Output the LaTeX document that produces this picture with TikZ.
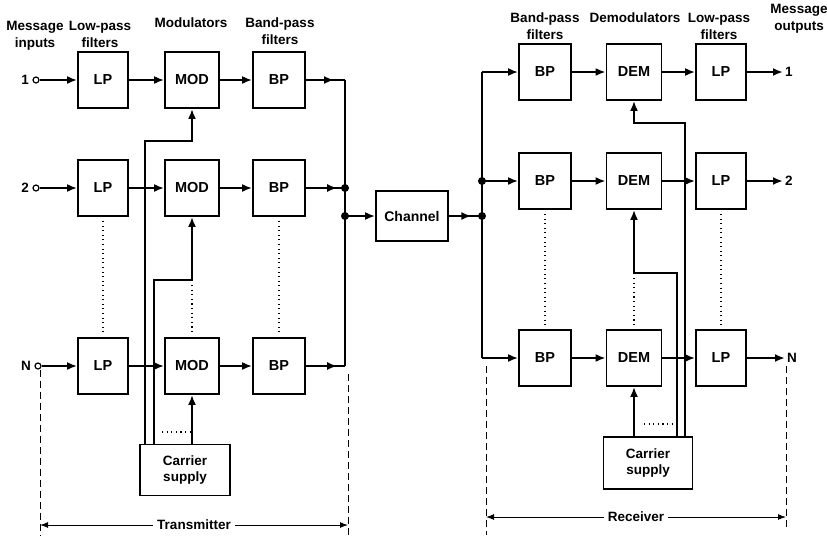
\documentclass[tikz,border=0pt]{standalone}
\usepackage{fontspec}
\setmainfont{Liberation Sans}
\usepackage{tikz}
\usetikzlibrary{arrows.meta,positioning,decorations.markings}

\begin{document}
\begin{tikzpicture}[
    x=1pt, y=-1pt,
    every node/.style={font=\bfseries\fontsize{13.5}{17}\selectfont},
    block/.style={draw, line width=1.8pt, minimum width=52pt, minimum height=56pt, inner sep=0pt, font=\bfseries\fontsize{14.5}{16}\selectfont},
    heading/.style={align=center, anchor=north, inner sep=0pt},
    wire/.style={line width=2.3pt},
    sig/.style={wire, -{Latex[length=10pt,width=8pt]}},
    midsig/.style={wire, postaction={decorate}, decoration={markings, mark=at position #1 with {\arrow{Latex[length=10pt,width=8pt]}}}},
    dotline/.style={line width=1.1pt, dash pattern=on 1.1pt off 3.5pt},
    frame/.style={dash pattern=on 7pt off 4pt, line width=1pt},
    span/.style={line width=1pt, {Latex[length=8pt,width=6pt]}-{Latex[length=8pt,width=6pt]}},
    junc/.style={circle, fill, inner sep=0pt, minimum size=8pt},
    port/.style={circle, draw, line width=1.2pt, inner sep=0pt, minimum size=6pt, fill=white}
]
\useasboundingbox (0,0) rectangle (827,536);

% Headings
\node [heading] at (35,21) {Message\\inputs};
\node [heading] at (100,21) {Low-pass\\filters};
\node [heading] at (191,18) {Modulators};
\node [heading] at (280,18) {Band-pass\\filters};
\node [heading] at (545,13) {Band-pass\\filters};
\node [heading] at (635,13) {Demodulators};
\node [heading] at (719,13) {Low-pass\\filters};
\node [heading] at (799,4) {Message\\outputs};

% Transmitter blocks
\node (in1) [port, label=left:1] at (36,80) {};
\node (in2) [port, label=left:2] at (36,188) {};
\node (inN) [port, label=left:N] at (38,366) {};
\node (lp1) [block, minimum width=50pt] at (103,80) {LP};
\node (lp2) [block, minimum width=50pt] at (103,188) {LP};
\node (lpN) [block, minimum width=50pt] at (103,366) {LP};
\node (mod1) [block, minimum width=54pt] at (192,80) {MOD};
\node (mod2) [block, minimum width=54pt] at (192,188) {MOD};
\node (modN) [block, minimum width=54pt] at (192,366) {MOD};
\node (bp1) [block] at (279,80) {BP};
\node (bp2) [block] at (279,188) {BP};
\node (bpN) [block] at (279,366) {BP};
\node (tcar) [block, minimum width=90pt, minimum height=51pt, align=center, font=\bfseries\fontsize{13.5}{16}\selectfont] at (185,470) {Carrier\\supply};

% Channel
\node (chan) [block, minimum width=72pt, minimum height=50pt, font=\bfseries\fontsize{14}{16}\selectfont] at (412,216) {Channel};

% Receiver blocks
\node (rbp1) [block] at (545,72) {BP};
\node (rbp2) [block] at (545,181) {BP};
\node (rbpN) [block] at (545,358) {BP};
\node (dem1) [block, minimum width=55pt] at (634,72) {DEM};
\node (dem2) [block, minimum width=55pt] at (634,181) {DEM};
\node (demN) [block, minimum width=55pt] at (634,358) {DEM};
\node (rlp1) [block, minimum width=50pt] at (721,72) {LP};
\node (rlp2) [block, minimum width=50pt] at (721,181) {LP};
\node (rlpN) [block, minimum width=50pt] at (721,358) {LP};
\node (rcar) [block, minimum width=89pt, minimum height=52pt, align=center, font=\bfseries\fontsize{13.5}{16}\selectfont] at (648,463) {Carrier\\supply};
\node (out1) [anchor=west, inner sep=2pt] at (783,72) {1};
\node (out2) [anchor=west, inner sep=2pt] at (783,181) {2};
\node (outN) [anchor=west, inner sep=2pt] at (785,358) {N};

% Bus points
\coordinate (tb1) at (345,80);
\coordinate (tbN) at (345,366);
\node (tb2) [junc] at (345,188) {};
\node (tbc) [junc] at (345,216) {};
\coordinate (rb1) at (482,72);
\coordinate (rbN) at (482,358);
\node (rb2) [junc] at (482,181) {};
\node (rbc) [junc] at (482,216) {};

% Transmitter signal paths
\draw [sig] (in1) -- (lp1.west);
\draw [sig] (in2) -- (lp2.west);
\draw [sig] (inN) -- (lpN.west);
\draw [sig] (lp1.east) -- (mod1.west);
\draw [sig] (lp2.east) -- (mod2.west);
\draw [sig] (lpN.east) -- (modN.west);
\draw [sig] (mod1.east) -- (bp1.west);
\draw [sig] (mod2.east) -- (bp2.west);
\draw [sig] (modN.east) -- (bpN.west);
\draw [midsig=0.72] (bp1.east) -- (tb1);
\draw [midsig=0.8] (bp2.east) -- (tb2.center);
\draw [midsig=0.8] (bpN.east) -- (tbN);
\draw [wire] (tb1) -- (tbN);
\draw [sig] (tbc.center) -- (chan.west);

% Transmitter carrier lines
\draw [sig] ([xshift=-40pt]tcar.north) |- ([yshift=-32pt]mod1.south) -- (mod1.south);
\draw [sig] ([xshift=-31pt]tcar.north) |- ([yshift=-63pt]mod2.south) -- (mod2.south);
\draw [sig] (tcar.north -| modN.south) -- (modN.south);

% Receiver signal paths
\draw [midsig=0.68] (chan.east) -- (rbc.center);
\draw [wire] (rb1) -- (rbN);
\draw [sig] (rb1) -- (rbp1.west);
\draw [sig] (rb2.center) -- (rbp2.west);
\draw [sig] (rbN) -- (rbpN.west);
\draw [sig] (rbp1.east) -- (dem1.west);
\draw [sig] (rbp2.east) -- (dem2.west);
\draw [sig] (rbpN.east) -- (demN.west);
\draw [sig] (dem1.east) -- (rlp1.west);
\draw [sig] (dem2.east) -- (rlp2.west);
\draw [sig] (demN.east) -- (rlpN.west);
\draw [sig] (rlp1.east) -- (out1.west);
\draw [sig] (rlp2.east) -- (out2.west);
\draw [sig] (rlpN.east) -- (outN.west);

% Receiver carrier lines
\draw [sig] ([xshift=37pt]rcar.north) |- ([yshift=-22pt]dem1.south) -- (dem1.south);
\draw [sig] ([xshift=29pt]rcar.north) |- ([yshift=-63pt]dem2.south) -- (dem2.south);
\draw [sig] (rcar.north -| demN.south) -- (demN.south);

% Dotted continuation
\draw [dotline] ([yshift=-4pt]lp2.south) -- ([yshift=4pt]lpN.north);
\draw [dotline] (mod2.south |- 0,285) -- ([yshift=4pt]modN.north);
\draw [dotline] ([yshift=-4pt]bp2.south) -- ([yshift=4pt]bpN.north);
\draw [dotline] (162,432) -- (190,432);
\draw [dotline] ([yshift=-4pt]rbp2.south) -- ([yshift=4pt]rbpN.north);
\draw [dotline] (demN.north |- 0,278) -- ([yshift=4pt]demN.north);
\draw [dotline] ([yshift=-4pt]rlp2.south) -- ([yshift=4pt]rlpN.north);
\draw [dotline] (644,424) -- (672,424);

% Transmitter / Receiver spans
\coordinate (tl) at (40,525);
\coordinate (tr) at (348,525);
\coordinate (rl) at (486,517);
\coordinate (rr) at (786,517);
\draw [frame] (inN.south -| tl) -- (40,535);
\draw [frame] (348,374) -- (348,535);
\draw [frame] (486,366) -- (486,535);
\draw [frame] (786,366) -- (786,530);
\draw [span] (tl) -- node [fill=white, inner xsep=4pt] {Transmitter} (tr);
\draw [span] (rl) -- node [fill=white, inner xsep=4pt] {Receiver} (rr);
\end{tikzpicture}
\end{document}
